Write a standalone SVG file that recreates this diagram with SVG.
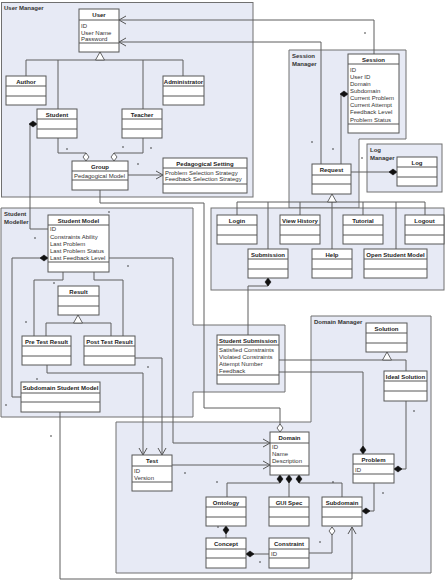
<svg xmlns="http://www.w3.org/2000/svg" width="445" height="583" viewBox="0 0 445 583">
<style>
.pkg{fill:#e7eaf5;stroke:#707070;stroke-width:1}
.cls rect{fill:#fff;stroke:#575757;stroke-width:1}
.cls line{stroke:#575757;stroke-width:1}
.ln{fill:none;stroke:#5e5e5e;stroke-width:1}
.h{font-family:"Liberation Sans",Arial,sans-serif;font-size:6px;font-weight:bold;text-anchor:middle;fill:#222}
.a{font-family:"Liberation Sans",Arial,sans-serif;font-size:6px;fill:#333}
.pl{font-family:"Liberation Sans",Arial,sans-serif;font-size:6px;font-weight:bold;fill:#333}
.dot{fill:#333}
</style>
<defs>
<marker id="arr" viewBox="-10 -6 12 12" refX="0" refY="0" markerWidth="12" markerHeight="12" markerUnits="userSpaceOnUse" orient="auto"><path d="M-7,-4 L0,0 L-7,4" fill="none" stroke="#555" stroke-width="1"/></marker>
<marker id="fd" viewBox="-10 -6 12 12" refX="0" refY="0" markerWidth="12" markerHeight="12" markerUnits="userSpaceOnUse" orient="auto"><path d="M-8,0 L-4,-3 L0,0 L-4,3 z" fill="#111" stroke="#111" stroke-width="0.6"/></marker>
<marker id="hd" viewBox="-10 -6 12 12" refX="0" refY="0" markerWidth="12" markerHeight="12" markerUnits="userSpaceOnUse" orient="auto"><path d="M-8,0 L-4,-3 L0,0 L-4,3 z" fill="#fff" stroke="#444" stroke-width="0.8"/></marker>
<marker id="tri" viewBox="-10 -6 12 12" refX="0" refY="0" markerWidth="12" markerHeight="12" markerUnits="userSpaceOnUse" orient="auto"><path d="M-8,-4.5 L0,0 L-8,4.5 z" fill="#fff" stroke="#444" stroke-width="0.8"/></marker>
</defs>
<rect width="445" height="583" fill="#fff"/>

<g id="packages">
<rect id="pkg-user-manager" class="pkg" x="1.5" y="2.5" width="251.5" height="194.5"/>
<polygon id="pkg-session-manager" class="pkg" points="289,50 406,50 406,139 359,139 359,208 289,208"/>
<rect id="pkg-log-manager" class="pkg" x="367" y="144" width="75" height="48"/>
<rect id="pkg-actions" class="pkg" x="211" y="208" width="233" height="82"/>
<polygon id="pkg-student-modeller" class="pkg" points="1,208 193,208 193,325 285,325 285,392 193,392 193,417 1,417"/>
<polygon id="pkg-domain-manager" class="pkg" points="311,316 431,316 431,573 116,573 116,422 311,422"/>
<text class="pl" x="4" y="10">User Manager</text>
<text class="pl" x="292" y="58">Session</text>
<text class="pl" x="292" y="66">Manager</text>
<text class="pl" x="370" y="152">Log</text>
<text class="pl" x="370" y="159.5">Manager</text>
<text class="pl" x="4" y="216">Student</text>
<text class="pl" x="4" y="224">Modeller</text>
<text class="pl" x="314" y="324">Domain Manager</text>
</g>

<g id="connectors" class="ln">
<path d="M374,54 V20 H119" marker-end="url(#arr)"/>
<path d="M321,164 V42 H119" marker-end="url(#arr)"/>
<path d="M26,76 V60 H183 V76 M58,109 V60 M143,109 V60"/>
<path d="M100,60 V52" marker-end="url(#tri)"/>
<path d="M58,138 V153 H86 V161" marker-end="url(#hd)"/>
<path d="M143,138 V153 H114 V161" marker-end="url(#hd)"/>
<path d="M48,229 H30 V124 H37" marker-end="url(#fd)"/>
<path d="M128,175 H163" marker-end="url(#arr)"/>
<path d="M100,190 V203 H204 V408 H280 V432" marker-end="url(#hd)"/>
<path d="M341,164 V94 H348" marker-end="url(#fd)"/>
<path d="M351,172 H397" marker-end="url(#fd)"/>
<path d="M237,215 V202 H425 V215 M268,249 V202 M300,215 V202 M363,215 V202 M396,249 V202 M332,249 V202"/>
<path d="M332,202 V194" marker-end="url(#tri)"/>
<path d="M248,335 V286 H268 V278" marker-end="url(#fd)"/>
<path d="M63,272 V280 H34 V336 M94,272 V280 H123 V336"/>
<path d="M46,336 V323 H111 V336"/>
<path d="M78,323 V315" marker-end="url(#tri)"/>
<path d="M21,397 H12 V258 H48" marker-end="url(#fd)"/>
<path d="M109,258 H173 V443 H270" marker-end="url(#arr)"/>
<path d="M47,365 V373 H143 V455" marker-end="url(#arr)"/>
<path d="M135,358 H162 V455" marker-end="url(#arr)"/>
<path d="M60,412 V579 H352 V527" marker-end="url(#arr)"/>
<path d="M172,465 H270" marker-end="url(#arr)"/>
<path d="M279,360 H406 V371"/>
<path d="M387,360 V352" marker-end="url(#tri)"/>
<path d="M279,372 H363 V454" marker-end="url(#fd)"/>
<path d="M406,401 V469 H394" marker-end="url(#fd)"/>
<path d="M374,483 V511 H362" marker-end="url(#fd)"/>
<path d="M227,497 V483 H280 V475" marker-end="url(#fd)"/>
<path d="M289,497 V475" marker-end="url(#fd)"/>
<path d="M342,497 V483 H299 V475" marker-end="url(#fd)"/>
<path d="M226,538 V526" marker-end="url(#fd)"/>
<path d="M269,554 H246" marker-end="url(#fd)"/>
<path d="M309,553 H332 V527" marker-end="url(#hd)"/>
</g>

<g id="multiplicities" class="dot">
<circle cx="67" cy="149" r="0.8"/><circle cx="123" cy="147" r="0.8"/><circle cx="151" cy="148" r="0.8"/><circle cx="138" cy="164" r="0.8"/>
<circle cx="365" cy="33" r="0.8"/><circle cx="312" cy="142" r="0.8"/><circle cx="333" cy="149" r="0.8"/><circle cx="362" cy="158" r="0.8"/>
<circle cx="109" cy="212" r="0.8"/><circle cx="35" cy="238" r="0.8"/><circle cx="128" cy="266" r="0.8"/><circle cx="54" cy="283" r="0.8"/>
<circle cx="26" cy="322" r="0.8"/><circle cx="148" cy="367" r="0.8"/><circle cx="37" cy="379" r="0.8"/><circle cx="6" cy="405" r="0.8"/>
<circle cx="51" cy="436" r="0.8"/><circle cx="185" cy="473" r="0.8"/><circle cx="217" cy="482" r="0.8"/><circle cx="333" cy="482" r="0.8"/>
<circle cx="383" cy="493" r="0.8"/><circle cx="218" cy="527" r="0.8"/><circle cx="320" cy="542" r="0.8"/><circle cx="260" cy="562" r="0.8"/>
<circle cx="414" cy="411" r="0.8"/>
</g>

<g id="user" class="cls"><rect x="79" y="9" width="40" height="43"/><line x1="79" y1="20" x2="119" y2="20"/><line x1="79" y1="43" x2="119" y2="43"/>
<text class="h" x="99" y="17">User</text><text class="a" x="81" y="27.8">ID</text><text class="a" x="81" y="34.5">User Name</text><text class="a" x="81" y="41">Password</text></g>
<g id="author" class="cls"><rect x="6" y="76" width="40" height="29"/><line x1="6" y1="86" x2="46" y2="86"/><line x1="6" y1="96" x2="46" y2="96"/><text class="h" x="26" y="83.5">Author</text></g>
<g id="administrator" class="cls"><rect x="163" y="76" width="41" height="29"/><line x1="163" y1="86" x2="204" y2="86"/><line x1="163" y1="96" x2="204" y2="96"/><text class="h" x="183.5" y="83.5">Administrator</text></g>
<g id="student" class="cls"><rect x="37" y="109" width="40" height="29"/><line x1="37" y1="119" x2="77" y2="119"/><line x1="37" y1="129" x2="77" y2="129"/><text class="h" x="57" y="116.5">Student</text></g>
<g id="teacher" class="cls"><rect x="122" y="109" width="40" height="29"/><line x1="122" y1="119" x2="162" y2="119"/><line x1="122" y1="129" x2="162" y2="129"/><text class="h" x="142" y="116.5">Teacher</text></g>
<g id="group" class="cls"><rect x="72" y="161" width="56" height="29"/><line x1="72" y1="171" x2="128" y2="171"/><line x1="72" y1="180" x2="128" y2="180"/><text class="h" x="100" y="168.5">Group</text><text class="a" x="74" y="177.8">Pedagogical Model</text></g>
<g id="pedagogical-setting" class="cls"><rect x="163" y="158" width="84" height="35"/><line x1="163" y1="168" x2="247" y2="168"/><line x1="163" y1="184" x2="247" y2="184"/><text class="h" x="205" y="165.5">Pedagogical Setting</text><text class="a" x="165" y="174.5">Problem Selection Strategy</text><text class="a" x="165" y="181.2">Feedback Selection Strategy</text></g>

<g id="session" class="cls"><rect x="348" y="54" width="51" height="79"/><line x1="348" y1="64" x2="399" y2="64"/><line x1="348" y1="124" x2="399" y2="124"/><text class="h" x="373.5" y="61.5">Session</text>
<text class="a" x="350" y="71.5">ID</text><text class="a" x="350" y="78.6">User ID</text><text class="a" x="350" y="85.8">Domain</text><text class="a" x="350" y="92.9">Subdomain</text><text class="a" x="350" y="100">Current Problem</text><text class="a" x="350" y="107.2">Current Attempt</text><text class="a" x="350" y="114.3">Feedback Level</text><text class="a" x="350" y="121.5">Problem Status</text></g>
<g id="request" class="cls"><rect x="312" y="164" width="39" height="30"/><line x1="312" y1="175" x2="351" y2="175"/><line x1="312" y1="184" x2="351" y2="184"/><text class="h" x="331.5" y="171.5">Request</text></g>
<g id="log" class="cls"><rect x="397" y="157" width="40" height="29"/><line x1="397" y1="167" x2="437" y2="167"/><line x1="397" y1="177" x2="437" y2="177"/><text class="h" x="417" y="164.5">Log</text></g>
<g id="login" class="cls"><rect x="217" y="215" width="40" height="29"/><line x1="217" y1="225" x2="257" y2="225"/><line x1="217" y1="235" x2="257" y2="235"/><text class="h" x="237" y="222.5">Login</text></g>
<g id="view-history" class="cls"><rect x="280" y="215" width="40" height="29"/><line x1="280" y1="225" x2="320" y2="225"/><line x1="280" y1="235" x2="320" y2="235"/><text class="h" x="300" y="222.5">View History</text></g>
<g id="tutorial" class="cls"><rect x="343" y="215" width="40" height="29"/><line x1="343" y1="225" x2="383" y2="225"/><line x1="343" y1="235" x2="383" y2="235"/><text class="h" x="363" y="222.5">Tutorial</text></g>
<g id="logout" class="cls"><rect x="405" y="215" width="39" height="29"/><line x1="405" y1="225" x2="444" y2="225"/><line x1="405" y1="235" x2="444" y2="235"/><text class="h" x="424.5" y="222.5">Logout</text></g>
<g id="submission" class="cls"><rect x="248" y="249" width="40" height="29"/><line x1="248" y1="259" x2="288" y2="259"/><line x1="248" y1="269" x2="288" y2="269"/><text class="h" x="268" y="256.5">Submission</text></g>
<g id="help" class="cls"><rect x="312" y="249" width="40" height="29"/><line x1="312" y1="259" x2="352" y2="259"/><line x1="312" y1="269" x2="352" y2="269"/><text class="h" x="332" y="256.5">Help</text></g>
<g id="open-student-model" class="cls"><rect x="364" y="249" width="63" height="29"/><line x1="364" y1="259" x2="427" y2="259"/><line x1="364" y1="269" x2="427" y2="269"/><text class="h" x="395.5" y="256.5">Open Student Model</text></g>

<g id="student-model" class="cls"><rect x="48" y="215" width="61" height="57"/><line x1="48" y1="225" x2="109" y2="225"/><line x1="48" y1="262" x2="109" y2="262"/><text class="h" x="78.5" y="222.5">Student Model</text>
<text class="a" x="50" y="231.2">ID</text><text class="a" x="50" y="238.5">Constraints Ability</text><text class="a" x="50" y="245.8">Last Problem</text><text class="a" x="50" y="253.1">Last Problem Status</text><text class="a" x="50" y="260.4">Last Feedback Level</text></g>
<g id="result" class="cls"><rect x="58" y="286" width="41" height="29"/><line x1="58" y1="296" x2="99" y2="296"/><line x1="58" y1="306" x2="99" y2="306"/><text class="h" x="78.5" y="293.5">Result</text></g>
<g id="pre-test-result" class="cls"><rect x="22" y="336" width="49" height="29"/><line x1="22" y1="346" x2="71" y2="346"/><line x1="22" y1="356" x2="71" y2="356"/><text class="h" x="46.5" y="343.5">Pre Test Result</text></g>
<g id="post-test-result" class="cls"><rect x="84" y="336" width="51" height="29"/><line x1="84" y1="346" x2="135" y2="346"/><line x1="84" y1="356" x2="135" y2="356"/><text class="h" x="109.5" y="343.5">Post Test Result</text></g>
<g id="subdomain-student-model" class="cls"><rect x="21" y="382" width="79" height="30"/><line x1="21" y1="393" x2="100" y2="393"/><line x1="21" y1="402" x2="100" y2="402"/><text class="h" x="60.5" y="389.8">Subdomain Student Model</text></g>
<g id="student-submission" class="cls"><rect x="217" y="335" width="62" height="49"/><line x1="217" y1="345" x2="279" y2="345"/><line x1="217" y1="375" x2="279" y2="375"/><text class="h" x="248" y="342.5">Student Submission</text>
<text class="a" x="219" y="351.5">Satisfied Constraints</text><text class="a" x="219" y="358.9">Violated Constraints</text><text class="a" x="219" y="365.9">Attempt Number</text><text class="a" x="219" y="372.9">Feedback</text></g>

<g id="solution" class="cls"><rect x="366" y="323" width="41" height="29"/><line x1="366" y1="333" x2="407" y2="333"/><line x1="366" y1="343" x2="407" y2="343"/><text class="h" x="386.5" y="330.5">Solution</text></g>
<g id="ideal-solution" class="cls"><rect x="384" y="371" width="43" height="30"/><line x1="384" y1="381" x2="427" y2="381"/><line x1="384" y1="391" x2="427" y2="391"/><text class="h" x="405.5" y="378.5">Ideal Solution</text></g>
<g id="problem" class="cls"><rect x="353" y="454" width="41" height="29"/><line x1="353" y1="464" x2="394" y2="464"/><line x1="353" y1="474" x2="394" y2="474"/><text class="h" x="373.5" y="461.5">Problem</text><text class="a" x="355" y="472.2">ID</text></g>
<g id="domain" class="cls"><rect x="270" y="432" width="39" height="43"/><line x1="270" y1="443" x2="309" y2="443"/><line x1="270" y1="466" x2="309" y2="466"/><text class="h" x="289.5" y="440">Domain</text><text class="a" x="272" y="448.9">ID</text><text class="a" x="272" y="456.2">Name</text><text class="a" x="272" y="463.2">Description</text></g>
<g id="test" class="cls"><rect x="132" y="455" width="40" height="36"/><line x1="132" y1="466" x2="172" y2="466"/><line x1="132" y1="482" x2="172" y2="482"/><text class="h" x="152" y="462.8">Test</text><text class="a" x="134" y="472.5">ID</text><text class="a" x="134" y="479.5">Version</text></g>
<g id="ontology" class="cls"><rect x="206" y="497" width="40" height="29"/><line x1="206" y1="507" x2="246" y2="507"/><line x1="206" y1="517" x2="246" y2="517"/><text class="h" x="226" y="504.5">Ontology</text></g>
<g id="gui-spec" class="cls"><rect x="269" y="497" width="40" height="29"/><line x1="269" y1="507" x2="309" y2="507"/><line x1="269" y1="517" x2="309" y2="517"/><text class="h" x="289" y="504.5">GUI Spec</text></g>
<g id="subdomain" class="cls"><rect x="322" y="497" width="40" height="29"/><line x1="322" y1="507" x2="362" y2="507"/><line x1="322" y1="517" x2="362" y2="517"/><text class="h" x="342" y="504.5">Subdomain</text></g>
<g id="concept" class="cls"><rect x="206" y="538" width="40" height="30"/><line x1="206" y1="549" x2="246" y2="549"/><line x1="206" y1="558" x2="246" y2="558"/><text class="h" x="226" y="545.5">Concept</text></g>
<g id="constraint" class="cls"><rect x="269" y="538" width="40" height="30"/><line x1="269" y1="549" x2="309" y2="549"/><line x1="269" y1="558" x2="309" y2="558"/><text class="h" x="289" y="545.5">Constraint</text><text class="a" x="271" y="555.5">ID</text></g>
</svg>
